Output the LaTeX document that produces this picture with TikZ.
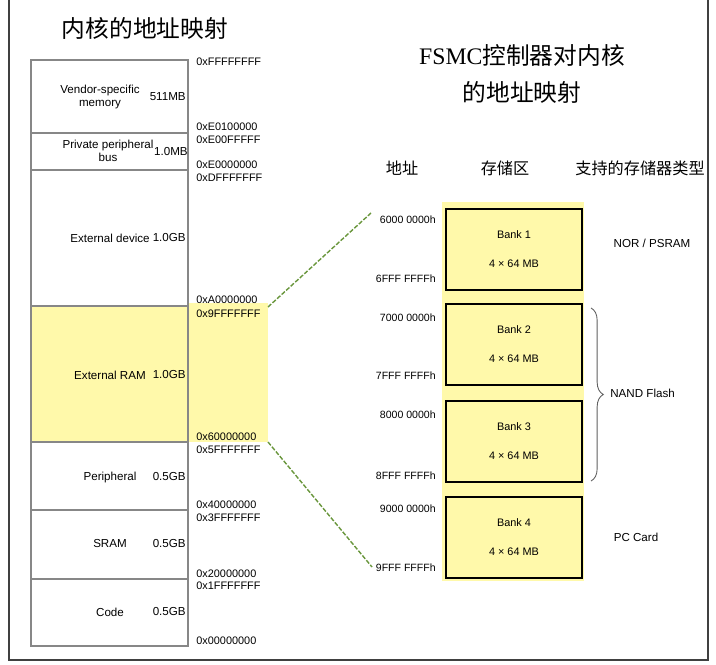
\documentclass[tikz,border=0pt]{standalone}
\usepackage{fontspec}
\setmainfont{Liberation Sans}
\newfontfamily\cjk{Noto Sans CJK SC}
\newfontfamily\titlefont{Liberation Serif}
\usetikzlibrary{decorations.pathreplacing}
\definecolor{ramyellow}{RGB}{255,249,170}
\definecolor{linkgreen}{RGB}{105,150,60}
\definecolor{gridgrey}{RGB}{135,135,135}
\tikzset{
  region/.style={font=\fontsize{6.6}{7.8}\selectfont, align=center, inner sep=0pt},
  size/.style={font=\fontsize{6.6}{7.8}\selectfont, anchor=east, inner sep=0pt},
  addr/.style={font=\fontsize{6.2}{7}\selectfont, anchor=west, inner sep=0pt},
  bankaddr/.style={font=\fontsize{6}{7}\selectfont, anchor=east, inner sep=0pt},
  bankbox/.style={draw=black, line width=1.1pt, fill=ramyellow, align=center,
    minimum width=2.72cm, minimum height=1.62cm, inner sep=0pt,
    font=\fontsize{6.2}{16.5}\selectfont},
  memtype/.style={font=\fontsize{6.6}{7.8}\selectfont, inner sep=0pt},
  header/.style={font=\cjk\fontsize{9.2}{11}\selectfont, inner sep=0pt}
}
\begin{document}
\begin{tikzpicture}[x=0.02cm,y=-0.02cm]
\useasboundingbox (0,0) rectangle (716,665);
% Outer frame
\draw[line width=0.9pt, black!75] (9,0) -- (9,660) -- (708,660) -- (708,0);
% Titles
\node[font=\cjk\fontsize{13.5}{16}\selectfont] (ktitle) at (145,28) {内核的地址映射};
\node[font=\fontsize{13.5}{21}\selectfont, align=center] (ftitle) at (522,74)
  {{\titlefont FSMC}{\cjk 控制器对内核}\\{\cjk 的地址映射}};
% Yellow band of the external RAM
\fill[ramyellow] (31,306) rectangle (188,442);
\fill[ramyellow] (188,303) rectangle (268,442);
% Memory stack
\draw[gridgrey, line width=0.7pt] (31,60) rectangle (188,646);
\foreach \y in {133,170,306,442,510,579}
  \draw[gridgrey, line width=0.7pt] (31,\y) -- (188,\y);
% Region names and sizes
\node[region] (vendor) at (100,97) {Vendor-specific\\memory};
\node[size] (vendorsz) at (186,97) {511MB};
\node[region] (ppb) at (108,151) {Private peripheral\\bus};
\node[size] (ppbsz) at (188,152) {1.0MB};
\node[region] (extdev) at (110,238) {External device};
\node[size] (extdevsz) at (186,238) {1.0GB};
\node[region] (extram) at (110,375) {External RAM};
\node[size] (extramsz) at (186,375) {1.0GB};
\node[region] (periph) at (110,477) {Peripheral};
\node[size] (periphsz) at (186,477) {0.5GB};
\node[region] (sram) at (110,544) {SRAM};
\node[size] (sramsz) at (186,544) {0.5GB};
\node[region] (code) at (110,612) {Code};
\node[size] (codesz) at (186,612) {0.5GB};
% Address labels
\node[addr] at (196,62) {0xFFFFFFFF};
\node[addr] at (196,127) {0xE0100000};
\node[addr] at (196,140) {0xE00FFFFF};
\node[addr] at (196,165) {0xE0000000};
\node[addr] at (196,178) {0xDFFFFFFF};
\node[addr] at (196,300) {0xA0000000};
\node[addr] at (196,314) {0x9FFFFFFF};
\node[addr] at (196,437) {0x60000000};
\node[addr] at (196,450) {0x5FFFFFFF};
\node[addr] at (196,505) {0x40000000};
\node[addr] at (196,518) {0x3FFFFFFF};
\node[addr] at (196,574) {0x20000000};
\node[addr] at (196,586) {0x1FFFFFFF};
\node[addr] at (196,641) {0x00000000};
% Column headers
\node[header] (hdaddr) at (402,168) {地址};
\node[header] (hdbank) at (505,168) {存储区};
\node[header] (hdtype) at (640,168) {支持的存储器类型};
% Banks
\fill[ramyellow] (442,202) rectangle (584,581);
\node[bankbox] (bank1) at (514,249.5) {Bank 1\\4 × 64 MB};
\node[bankbox] (bank2) at (514,344.5) {Bank 2\\4 × 64 MB};
\node[bankbox] (bank3) at (514,441.5) {Bank 3\\4 × 64 MB};
\node[bankbox] (bank4) at (514,537.5) {Bank 4\\4 × 64 MB};
% Bank addresses
\node[bankaddr] (a6000) at (436,220) {6000 0000h};
\node[bankaddr] (a6fff) at (436,279) {6FFF FFFFh};
\node[bankaddr] (a7000) at (436,318) {7000 0000h};
\node[bankaddr] (a7fff) at (436,376) {7FFF FFFFh};
\node[bankaddr] (a8000) at (436,415) {8000 0000h};
\node[bankaddr] (a8fff) at (436,476) {8FFF FFFFh};
\node[bankaddr] (a9000) at (436,509) {9000 0000h};
\node[bankaddr] (a9fff) at (436,568) {9FFF FFFFh};
% Memory types
\node[memtype] (nor) at (652,243) {NOR / PSRAM};
\node[memtype, anchor=west] (nand) at (610,393) {NAND Flash};
\node[memtype] (pccard) at (636,537) {PC Card};
\draw[gridgrey!70!black, line width=0.5pt, decorate, decoration={brace, amplitude=7pt}]
  (591,308) -- (591,481);
% Links from the external RAM to the FSMC banks
\coordinate (ramtop) at (268,307);
\coordinate (rambot) at (268,442);
\coordinate (banktop) at (371,213);
\coordinate (bankbot) at (372,567);
\draw[linkgreen, line width=0.8pt, dash pattern=on 2.5pt off 1pt] (ramtop) -- (banktop);
\draw[linkgreen, line width=0.8pt, dash pattern=on 2.5pt off 1pt] (rambot) -- (bankbot);
\end{tikzpicture}
\end{document}
